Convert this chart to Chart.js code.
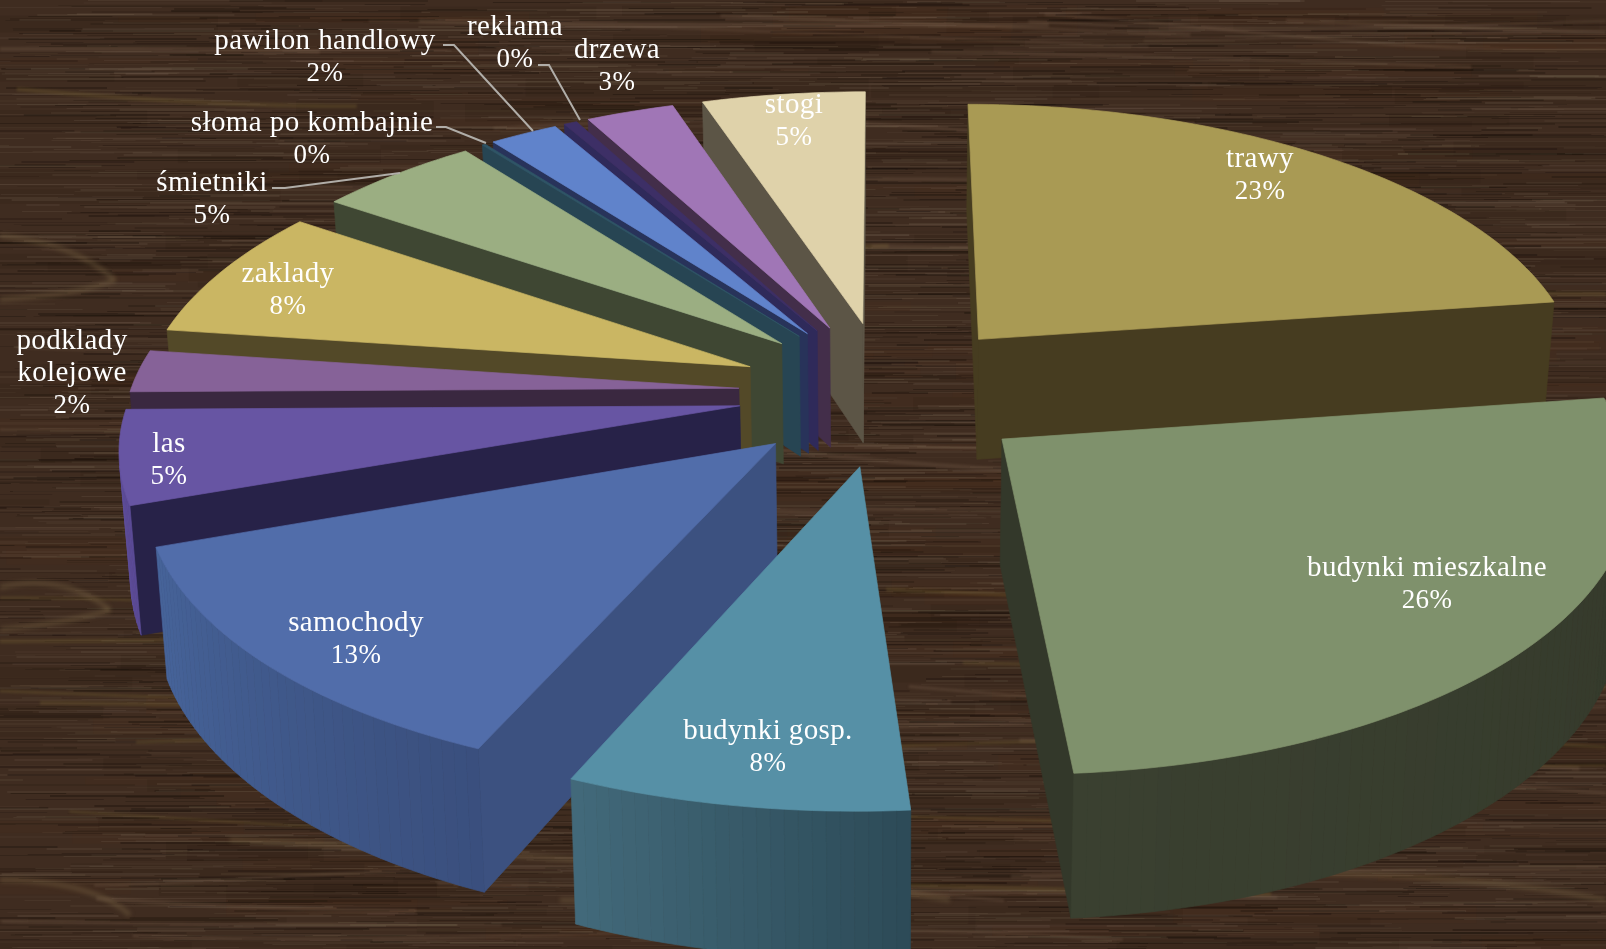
<!DOCTYPE html>
<html lang="pl">
<head>
<meta charset="utf-8">
<title>Pożary</title>
<script src="https://cdn.jsdelivr.net/npm/chart.js@4/dist/chart.umd.min.js"></script>
<style>
  html, body { margin: 0; padding: 0; background: #3e2a1e; overflow: hidden; }
  canvas { display: block; }
</style>
</head>
<body>
<canvas id="wykres" width="1606" height="949"></canvas>
<script>
// dane
const kategorie = ['trawy', 'budynki mieszkalne', 'budynki gosp.', 'samochody', 'las', 'podklady\nkolejowe',
  'zaklady', 'śmietniki', 'słoma po kombajnie', 'pawilon handlowy', 'reklama', 'drzewa', 'stogi'];
const wartosci = [22.7, 26.1, 7.7, 13, 5.3, 2.4, 7.5, 5, 0.1, 2.1, 0.4, 2.7, 5];
const procenty = ['23%', '26%', '8%', '13%', '5%', '2%', '8%', '5%', '0%', '2%', '0%', '3%', '5%'];

// kolory
const koloryGora = ['#A99A54', '#7F916C', '#5690A6', '#516DAA', '#6755A3', '#866298', '#CAB663',
  '#9BAE82', '#2F5566', '#6083CB', '#3D2F66', '#A076B6', '#DFD2AA'];
const koloryBok = ['#463C20', '#33382A', '#35586A', '#3C5180', '#272248', '#3A2840', '#534928',
  '#3F4733', '#274553', '#28335A', '#2F2A5A', '#432E4A', '#5C5546'];
const koloryLuk = [['#463C20', '#463C20'], ['#3A4030', '#33382A'], ['#42697A', '#2D4B58'], ['#466399', '#3A4F7E'],
  ['#6755A3', '#5A4A96'], ['#3A2840', '#3A2840'], ['#534928', '#534928'], ['#3F4733', '#3F4733'],
  ['#274553', '#274553'], ['#28335A', '#28335A'], ['#2F2A5A', '#2F2A5A'], ['#432E4A', '#432E4A'], ['#5C5546', '#5C5546']];

// miejsca opisów i linie odniesienia
const opisy = [[1260, 159], [1427, 568], [768, 731], [356, 623], [169, 444], [72, 341], [288, 274],
  [212, 183], [312, 123], [325, 41], [515, 27], [617, 50], [794, 105]];
const linie = [
  [[443, 45], [454, 45], [533, 131]],
  [[436, 127], [446, 127], [486, 143]],
  [[272, 188], [285, 188], [400, 173]],
  [[538, 65], [549, 65], [580, 120]]
];

// kamera "3D"
const KAM = { cx: 885, cy: 392.8, a: 609, b: 278.6, k: 0.13, d: 123, zbieg: 0.985, wyciagY: 1.08 };

function rzut(x, y, goraFlag) {
  const w = 1 - KAM.k * y;
  const s = goraFlag ? 1 : KAM.zbieg;
  return {
    x: KAM.cx + KAM.a * x * s / w,
    y: KAM.cy + (KAM.b * y + (goraFlag ? 0 : KAM.d)) / w
  };
}

function mieszaj(c1, c2, t) {
  const p = c => [1, 3, 5].map(i => parseInt(c.slice(i, i + 2), 16));
  const a = p(c1), b = p(c2);
  return `rgb(${a.map((v, i) => Math.round(v + (b[i] - v) * t)).join(',')})`;
}

function wielokat(ctx, pkt, kolor) {
  ctx.beginPath();
  pkt.forEach((p, i) => i ? ctx.lineTo(p.x, p.y) : ctx.moveTo(p.x, p.y));
  ctx.closePath();
  ctx.fillStyle = kolor;
  ctx.strokeStyle = kolor;
  ctx.lineWidth = 0.7;
  ctx.fill();
  ctx.stroke();
}

// wycinek rysowany w rzucie perspektywicznym, kąty i wysunięcie bierze z biblioteki
class Wycinek3D extends Chart.ArcElement {
  draw(ctx) {
    const srodek = (this.startAngle + this.endAngle) / 2;
    const o = (this.options.offset || 0) / this.outerRadius;
    const ox = Math.cos(srodek) * o, oy = Math.sin(srodek) * o * KAM.wyciagY;
    const n = Math.max(2, Math.ceil((this.endAngle - this.startAngle) / 0.02));
    const luk = [];
    for (let i = 0; i <= n; i++) {
      const kat = this.startAngle + (this.endAngle - this.startAngle) * i / n;
      luk.push([ox + Math.cos(kat), oy + Math.sin(kat)]);
    }
    const wierzch = [ox, oy];
    const gora = p => rzut(p[0], p[1], true);
    const dol = p => rzut(p[0], p[1], false);
    const wnetrze = gora([ox + Math.cos(srodek) * 0.6, oy + Math.sin(srodek) * 0.6]);

    const widoczna = (p, q) => {
      const P = gora(p), Q = gora(q), D = dol(p);
      const ux = Q.x - P.x, uy = Q.y - P.y;
      const c1 = ux * (wnetrze.y - P.y) - uy * (wnetrze.x - P.x);
      const c2 = ux * (D.y - P.y) - uy * (D.x - P.x);
      return c1 * c2 < 0;
    };
    const sciana = (p, q, kolor) => {
      if (widoczna(p, q)) wielokat(ctx, [gora(p), gora(q), dol(q), dol(p)], kolor);
    };

    const idx = this.$context.dataIndex;
    // boki promieniowe
    sciana(wierzch, luk[0], koloryBok[idx]);
    sciana(wierzch, luk[n], koloryBok[idx]);
    // ściana zewnętrzna
    const [k1, k2] = koloryLuk[idx];
    for (let i = n - 1; i >= 0; i--) sciana(luk[i], luk[i + 1], mieszaj(k2, k1, i / (n - 1 || 1)));
    // wierzch
    wielokat(ctx, [gora(wierzch), ...luk.map(gora)], this.options.backgroundColor);
  }
}
Wycinek3D.id = 'wycinek3d';
Wycinek3D.defaults = Chart.ArcElement.defaults;
Wycinek3D.defaultRoutes = Chart.ArcElement.defaultRoutes;
Wycinek3D.descriptors = Chart.ArcElement.descriptors;

class Kolowy3D extends Chart.DoughnutController {
  draw() {
    const ctx = this.chart.ctx;
    const poz = a => Math.sin((a.startAngle + a.endAngle) / 2);
    [...this._cachedMeta.data].sort((a, b) => poz(a) - poz(b)).forEach(a => a.draw(ctx));
  }
}
Kolowy3D.id = 'kolowy3d';
Kolowy3D.defaults = { dataElementType: 'wycinek3d', animation: false };
Kolowy3D.overrides = Chart.DoughnutController.overrides;

Chart.register(Wycinek3D, Kolowy3D);

// tekstura drewna, rysowana raz na osobnym płótnie i rozmywana w całości
function warstwa(w, h, rysuj) {
  const c = document.createElement('canvas');
  c.width = w;
  c.height = h;
  rysuj(c.getContext('2d'));
  return c;
}

const tlo = {
  id: 'tlo',
  beforeDraw(chart) {
    const { ctx, width, height } = chart;
    let ziarno = 12345;
    const los = () => (ziarno = (ziarno * 1664525 + 1013904223) % 4294967296) / 4294967296;
    ctx.save();
    ctx.fillStyle = '#3F2C20';
    ctx.fillRect(0, 0, width, height);

    // plamy koloru
    for (let i = 0; i < 400; i++) {
      const x = los() * width, y = los() * height;
      ctx.fillStyle = los() < 0.4 ? 'rgba(90,52,25,0.08)' : 'rgba(30,22,14,0.10)';
      ctx.fillRect(x - 100, y, 120 + los() * 260, 4 + los() * 14);
    }
    // drobne słoje
    const sloje = warstwa(width, height, c => {
      for (let i = 0; i < 6500; i++) {
        const x = los() * width, y = Math.floor(los() * height);
        const v = los();
        c.fillStyle = v < 0.45 ? `rgba(24,15,9,${0.1 + los() * 0.28})` : `rgba(130,112,92,${0.05 + los() * 0.14})`;
        c.fillRect(x - 40, y, 30 + los() * 170, 1 + Math.floor(los() * 2));
      }
    });
    ctx.filter = 'blur(0.5px)';
    ctx.drawImage(sloje, 0, 0);

    // jaśniejsze faliste linie
    const fale = warstwa(width, height, c => {
      for (let i = 0; i < 46; i++) {
        const y0 = los() * height, f1 = 0.002 + los() * 0.004, f2 = los() * 6, a = 4 + los() * 12;
        const x0 = los() * width * 0.9 - 100, dl = 250 + los() * 800;
        c.beginPath();
        for (let x = x0; x < x0 + dl; x += 10) {
          const y = y0 + Math.sin(x * f1 + f2) * a + (x - x0) * 0.02;
          x === x0 ? c.moveTo(x, y) : c.lineTo(x, y);
        }
        c.lineWidth = 2 + los() * 3;
        c.strokeStyle = los() < 0.35 ? 'rgba(120,100,50,0.30)' : 'rgba(140,115,90,0.22)';
        c.stroke();
      }
    });
    ctx.filter = 'blur(1.2px)';
    ctx.drawImage(fale, 0, 0);

    // sęki po lewej i na dole
    const petle = [[-10, 235, 70, 240, 115, 280], [-10, 300, 80, 295, 115, 280], [-10, 590, 60, 570, 110, 610],
      [-10, 630, 60, 625, 110, 610], [0, 880, 90, 880, 130, 915], [230, 840, 700, 860, 950, 900],
      [1100, 880, 1400, 860, 1606, 900], [560, 900, 760, 900, 880, 945]];
    const seki = warstwa(width, height, c => {
      c.lineWidth = 5;
      c.strokeStyle = 'rgba(125,105,70,0.38)';
      petle.forEach(p => {
        c.beginPath();
        c.moveTo(p[0], p[1]);
        c.quadraticCurveTo(p[2], p[3], p[4], p[5]);
        c.stroke();
      });
    });
    ctx.filter = 'blur(2px)';
    ctx.drawImage(seki, 0, 0);
    ctx.restore();
  }
};

// opisy danych
const podpisy = {
  id: 'podpisy',
  afterDatasetsDraw(chart) {
    const ctx = chart.ctx;
    ctx.save();
    ctx.strokeStyle = '#B0ADA8';
    ctx.lineWidth = 2;
    linie.forEach(l => {
      ctx.beginPath();
      l.forEach((p, i) => i ? ctx.lineTo(p[0], p[1]) : ctx.moveTo(p[0], p[1]));
      ctx.stroke();
    });
    ctx.fillStyle = '#fff';
    ctx.letterSpacing = '0.4px';
    ctx.textAlign = 'center';
    ctx.textBaseline = 'middle';
    kategorie.forEach((nazwa, i) => {
      const wiersze = nazwa.split('\n');
      ctx.font = '29px "Liberation Serif"';
      wiersze.forEach((t, j) => ctx.fillText(t, opisy[i][0], opisy[i][1] + j * 32.5));
      ctx.font = '27px "Liberation Serif"';
      ctx.fillText(procenty[i], opisy[i][0], opisy[i][1] + wiersze.length * 32.5);
    });
    ctx.restore();
  }
};

new Chart(document.getElementById('wykres'), {
  type: 'kolowy3d',
  data: {
    labels: kategorie,
    datasets: [{
      data: wartosci,
      backgroundColor: koloryGora,
      borderWidth: 0,
      offset: 102
    }]
  },
  options: {
    responsive: false,
    animation: false,
    cutout: 0,
    layout: { padding: 0 },
    plugins: { legend: { display: false }, tooltip: { enabled: false } }
  },
  plugins: [tlo, podpisy]
});
</script>
</body>
</html>
